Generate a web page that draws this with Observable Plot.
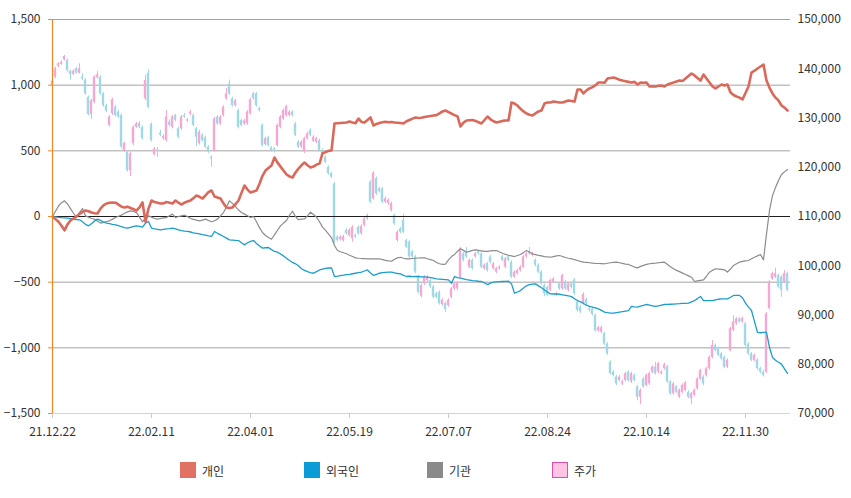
<!DOCTYPE html>
<html><head><meta charset="utf-8">
<script src="https://cdn.jsdelivr.net/npm/d3@7"></script>
<script src="https://cdn.jsdelivr.net/npm/@observablehq/plot@0.6"></script>
<style>
body{margin:0;background:#fff;font-family:"Noto Sans CJK KR","Noto Sans",sans-serif;}
#wrap{position:relative;width:851px;height:498px;overflow:hidden;}
#legend{position:absolute;left:0;top:445px;width:851px;height:53px;}
.item{position:absolute;top:17px;height:16px;display:flex;align-items:center;font-size:12px;color:#333;white-space:nowrap;}
.sw{width:16px;height:16px;margin-right:6px;box-sizing:border-box;}
</style></head><body>
<div id="wrap"><div id="chart"></div><div id="legend"></div></div>
<script>
// ---- data ----
const seriesNames = ["개인", "외국인", "기관", "주가"];
const seriesColors = ["#df7262", "#0b9bd6", "#8a8a8a", "#ffc4e4"];
const dateTickIndex = [0, 33, 66, 99, 132, 165, 198, 231];
const dateTickLabels = ["21.12.22", "22.02.11", "22.04.01", "22.05.19", "22.07.07", "22.08.24", "22.10.14", "22.11.30"];
const leftTicks = [-1500, -1000, -500, 0, 500, 1000, 1500];
const rightTicks = [70000, 80000, 90000, 100000, 110000, 120000, 130000, 140000, 150000];

const individual = [0,-20,-40,-70,-105,-60,-30,-15,0,20,
35,46,40,30,25,23,60,85,99,105,
107,105,90,75,69,75,65,55,46,69,
107,-40,60,122,110,105,99,100,110,105,
99,122,105,91,105,115,122,140,160,150,
137,160,185,198,152,145,137,100,69,65,
69,95,122,180,236,205,183,190,198,250,
310,350,370,388,449,410,380,350,320,305,
297,335,365,390,411,390,373,380,395,403,
480,490,500,502,708,710,712,714,716,723,
715,710,746,720,715,735,754,693,705,712,
718,722,718,720,716,714,712,708,725,735,
745,754,750,752,758,762,765,769,772,785,
800,807,795,784,772,762,685,715,731,733,
735,728,718,708,735,761,740,725,716,722,
728,731,731,868,860,845,820,800,784,775,
769,785,800,807,860,868,868,876,872,868,
868,876,883,880,875,967,967,937,960,975,
985,1000,1020,1020,1018,1051,1055,1058,1050,1042,
1035,1030,1025,1020,1025,1005,1020,1018,1020,990,
992,990,995,997,990,1005,1013,1020,1028,1035,
1032,1050,1070,1089,1074,1055,1035,1081,1050,1020,
990,975,990,1005,998,1005,944,925,914,905,
891,940,990,1096,1110,1127,1142,1157,1035,980,
937,905,883,845,829,807];

const foreign = [0,-3,-6,-9,-11,-13,-16,-20,-23,-25,
-40,-60,-71,-55,-35,-20,-30,-42,-51,-55,
-60,-63,-70,-78,-85,-89,-82,-76,-71,-76,
-81,-50,-38,-89,-95,-98,-102,-98,-94,-92,
-89,-95,-102,-108,-112,-114,-118,-124,-128,-132,
-138,-142,-148,-152,-114,-128,-140,-152,-165,-178,
-180,-182,-183,-200,-216,-200,-190,-183,-205,-225,
-241,-238,-236,-252,-266,-272,-285,-300,-318,-335,
-350,-360,-375,-398,-410,-420,-428,-432,-420,-407,
-400,-395,-392,-391,-457,-454,-450,-447,-442,-440,
-436,-432,-428,-424,-415,-407,-430,-449,-440,-432,
-428,-426,-424,-424,-430,-434,-437,-448,-457,-455,
-458,-456,-457,-459,-460,-462,-466,-470,-475,-477,
-479,-481,-483,-508,-457,-465,-470,-475,-480,-484,
-488,-490,-493,-495,-505,-518,-508,-500,-498,-496,
-495,-494,-493,-513,-584,-575,-564,-545,-528,-518,
-515,-513,-528,-543,-560,-576,-589,-590,-589,-592,
-596,-600,-605,-610,-627,-640,-650,-662,-675,-685,
-690,-696,-703,-715,-728,-732,-735,-736,-732,-728,
-724,-720,-716,-685,-688,-690,-682,-676,-670,-675,
-680,-685,-680,-675,-670,-669,-668,-667,-665,-664,
-662,-661,-660,-650,-640,-625,-609,-640,-640,-640,
-640,-635,-630,-627,-627,-627,-615,-601,-601,-601,
-619,-660,-690,-716,-800,-883,-885,-883,-883,-997,
-1073,-1095,-1110,-1124,-1160,-1195];

const institution = [0,40,80,105,119,95,60,25,-8,30,
61,5,-5,-15,-20,-35,-50,-45,-38,-33,
-20,-8,2,10,25,35,43,38,30,-5,
-40,-15,5,-5,-15,-20,-15,-10,-8,5,
18,-8,0,5,10,0,-15,-22,-28,-33,
-28,-20,-30,-40,-32,-20,5,30,75,119,
100,75,50,30,18,5,-8,0,-40,-85,
-122,-145,-160,-173,-140,-105,-71,-50,-30,10,
40,0,-25,-20,-18,5,33,15,-5,-40,
-81,-105,-132,-160,-221,-259,-268,-276,-284,-295,
-305,-315,-318,-320,-320,-322,-322,-322,-322,-322,
-328,-334,-338,-340,-325,-315,-310,-318,-322,-322,
-320,-318,-316,-315,-315,-322,-328,-335,-350,-360,
-365,-362,-330,-305,-289,-265,-246,-258,-272,-265,
-258,-254,-258,-262,-266,-266,-262,-260,-259,-270,
-280,-289,-295,-300,-305,-297,-289,-275,-259,-270,
-284,-290,-296,-300,-305,-308,-310,-305,-300,-297,
-305,-312,-318,-322,-328,-335,-342,-348,-350,-352,
-355,-357,-358,-359,-360,-356,-352,-350,-348,-352,
-357,-362,-365,-375,-385,-391,-380,-372,-365,-360,
-357,-355,-352,-350,-348,-365,-382,-398,-410,-420,
-431,-442,-452,-462,-495,-490,-486,-482,-455,-424,
-410,-398,-400,-403,-406,-424,-400,-373,-360,-348,
-342,-338,-335,-322,-310,-300,-289,-330,-132,46,
160,220,274,320,340,358];

const priceOpen = [136600,138300,140500,140900,141800,141700,139500,138800,140000,139100,
138300,137700,134200,130700,133200,138200,138300,134900,132500,128500,
130900,132200,131200,130500,123400,123100,119300,124800,128100,128900,
128100,133900,139100,128700,122600,123500,126900,125800,125400,129200,
128100,130500,127800,127800,130500,129400,130800,130500,127800,124800,
126500,126000,124100,122000,123400,130200,128800,130500,133900,136900,
133900,132500,131500,129500,128800,128800,130900,134900,134900,131900,
128500,124600,126000,123900,123700,124400,128100,129800,130500,130500,
131200,128800,125100,124100,123100,125800,127500,125300,125100,125400,
123400,122000,120000,118700,116600,105800,105300,105100,107200,106100,
105500,106100,107800,106500,108200,110200,117000,113600,117700,115600,
115600,112900,112600,111200,110200,105100,107500,109200,105100,104800,
102800,101800,97700,93800,96300,97000,97000,95700,94300,94600,
92100,92300,91900,93600,95300,95300,97700,102400,102800,99700,
101100,101800,102800,102400,99400,100400,101800,99400,98700,99400,
101800,99700,101800,100700,97700,98400,99000,99700,101800,102800,
102100,101100,100100,98700,96000,95600,95000,96700,94000,96300,
95300,96700,95000,96300,97100,92600,91600,92300,93100,91200,
91200,89900,86800,86500,86200,84100,80400,78400,77400,76700,
76000,76700,78400,76400,77700,75400,73300,77000,75700,76000,
78400,79400,78400,78100,79100,79500,76400,74000,75400,73300,
74300,74700,74300,73000,73700,75000,77000,77400,77700,79100,
81400,83800,83100,82100,81400,79400,82800,86900,88200,89200,
88600,88200,84100,82100,80800,80800,79100,78400,78400,91300,
97300,97700,98000,97700,96700,98400];

const priceClose = [137500,140000,141000,141300,142500,139600,138800,139500,139100,140000,
137900,134900,130700,133500,138300,138800,134900,132500,131400,130200,
133700,130500,130200,124100,124800,119300,122700,128100,128800,128100,
125800,137600,132200,125400,123700,123300,126500,126200,130200,128500,
130200,129500,126100,130200,130200,129600,131200,128500,126100,127100,
125400,124100,123100,121700,129800,128800,130200,132200,134900,134900,
132500,133500,128100,128500,129400,131200,133700,133900,132500,131500,
124400,125800,124400,123400,123200,128500,130200,131500,132300,131200,
130500,126500,124100,125100,125800,126800,126500,126100,125800,123400,
122700,121000,118700,118000,104800,105100,105800,105900,106500,107200,
107800,105800,106500,108000,109500,109500,112900,118800,114600,115100,
112900,113600,113300,112600,108500,106800,106800,106800,103800,101800,
101800,98700,94600,96000,97700,97700,95700,93600,93600,92300,
93000,91100,93000,95300,96300,96500,103400,101100,101800,101100,
99400,102400,102400,99700,100100,99000,100700,100400,99400,99700,
101100,101400,101100,97700,98700,99000,99700,101800,102400,102400,
102400,100100,98700,96300,94300,94000,97000,97300,94300,95300,
98000,95300,96300,95600,94300,90900,90600,94200,92300,90900,
90100,86800,87400,87400,84100,82100,78100,77700,76000,77400,
76400,78100,76700,78100,76700,73300,74700,75400,77700,78100,
79400,78100,80100,78400,79900,76400,74000,76000,74300,74700,
75700,76200,73300,74000,74700,77000,78700,76000,79100,81400,
83800,82800,81800,81100,79400,80800,87200,88600,89200,88600,
89300,83800,82100,80800,81800,79100,78400,77700,90200,96700,
98400,98400,95700,95000,98400,95000];

const priceHigh = [137800,140300,141200,141600,142700,142000,139700,139800,140300,141000,
139000,138000,134500,133800,138600,139400,138600,135200,132800,130500,
134000,132500,131500,130800,125100,123400,123000,128400,129100,129300,
128400,138600,139800,129000,124000,124000,127500,126600,131500,129600,
130500,130800,128100,130500,130900,129900,131500,130800,128100,127500,
126800,126300,124400,122300,130100,130500,130500,132500,136000,137700,
134200,133800,131800,129800,129700,131500,134000,135200,135200,132200,
128800,126100,126300,124200,124000,128800,130500,131800,132600,131500,
131500,129100,125400,125400,126100,127100,127800,126400,126100,125700,
123700,122300,120300,119000,116900,106100,106100,106200,107500,107500,
108100,106400,108100,108300,109800,110500,117300,119100,118000,115900,
115900,113900,113600,112900,110500,107100,107800,110500,105400,105100,
103100,102100,98000,96300,98000,98000,97300,96000,94600,94900,
93300,92600,93300,95600,96600,96800,103700,102700,103700,101400,
101400,102700,103100,102700,100400,100700,102100,100700,99700,100000,
102100,101700,102100,101000,99000,99300,100000,102100,102700,103700,
102700,101400,100400,99000,96300,95900,97300,97600,94600,96600,
98300,97000,96600,96600,97400,92900,91900,94500,93400,91500,
91500,90200,87700,87700,86500,84400,80700,78700,77700,77700,
76700,78400,78700,78400,78000,75700,75000,77300,78000,78400,
79700,80400,80400,78700,80200,79800,76700,76300,75700,75000,
76000,76500,74600,74300,75000,77300,79000,77700,79400,81700,
84800,84100,83400,82400,81700,81100,87500,89800,89500,89500,
89600,88500,84400,82400,82100,81100,79400,78700,90500,97000,
98700,99500,98300,98000,99000,98700];

const priceLow = [136300,138000,140200,140700,141600,139300,137700,138600,138900,138900,
137600,134600,130400,129700,132900,137900,134600,132200,131100,128200,
130500,130200,129900,123800,123000,119000,118100,124400,127900,127800,
125500,133500,131900,125100,122300,122000,126200,125500,125100,128200,
127800,129200,125800,127500,129900,129100,130500,128200,124200,124500,
125100,123800,122800,120000,123100,128500,128500,130200,133600,134600,
132200,132200,127800,128200,128500,128500,130600,133600,132200,131200,
124100,124300,124100,123100,122900,124100,127800,129500,130200,130200,
130200,126200,123800,123800,122800,125500,126200,125000,124800,123100,
122400,120700,118400,117700,104500,104800,105000,104800,106200,105800,
104800,105500,106200,106200,107900,109200,112600,113300,114300,114800,
112600,112600,112300,110900,108200,104800,106500,106500,103500,101500,
101500,98400,94300,93500,96000,96700,95400,93300,93300,92000,
91800,90500,91600,93300,95000,95000,97400,100800,101500,99400,
99100,101500,102100,99400,99100,98700,100400,99100,98400,99100,
100800,99400,100800,97400,97400,98100,98700,99400,101500,102100,
101800,99800,98400,96000,93700,93700,94700,96400,93700,95000,
95000,95000,94700,95300,94000,90600,90300,92000,92000,90600,
89800,86500,86500,86200,83800,81800,77800,77400,75700,76400,
75700,76400,76400,76100,76400,72600,71800,75100,75400,75700,
78100,77800,78100,77800,78800,76100,73700,73700,74000,73000,
74000,74400,73000,71800,73400,74700,76700,75700,77400,78800,
81100,82500,81500,80800,79100,79100,82500,86600,87900,88300,
88300,83500,81800,80500,80500,78800,78100,77400,78100,91000,
97000,97400,95400,93600,96400,94700];

// ---- chart ----
const N = priceClose.length;
const pricePivot = 110000, priceSpan = 40000, leftSpan = 1500;
const toLeft = p => (p - pricePivot) * leftSpan / priceSpan;
const rows = d3.range(N).map(i => ({i, ind: individual[i], frn: foreign[i], ins: institution[i],
  o: priceOpen[i], c: priceClose[i], h: priceHigh[i], l: priceLow[i]}));
const ups = rows.filter(d => d.c >= d.o);
const downs = rows.filter(d => d.c < d.o);
const upColor = "#f5a8d1", downColor = "#a2d8e5";
const fmt = d3.format(",");

const chart = Plot.plot({
  width: 851, height: 445,
  marginLeft: 52, marginRight: 61, marginTop: 19, marginBottom: 32,
  x: {domain: [0, 246], axis: null, label: null},
  y: {domain: [-1500, 1500], axis: null, label: null},
  style: {fontFamily: '"Noto Sans CJK KR","Noto Sans",sans-serif', fontSize: "12px", color: "#333", background: "#fff", overflow: "visible"},
  marks: [
    Plot.ruleY(leftTicks.filter(v => v !== 0 && v !== -1500), {stroke: "#a3a3a3", strokeWidth: 1}),
    Plot.ruleY([-1500], {stroke: "#d4d4d4"}),
    Plot.ruleX(ups, {x: "i", y1: d => toLeft(d.l), y2: d => toLeft(d.h), stroke: upColor, strokeWidth: 1}),
    Plot.ruleX(downs, {x: "i", y1: d => toLeft(d.l), y2: d => toLeft(d.h), stroke: downColor, strokeWidth: 1}),
    Plot.rect(ups, {x1: d => d.i - 0.4, x2: d => d.i + 0.4, y1: d => toLeft(d.o), y2: d => toLeft(d.c), fill: upColor}),
    Plot.rect(downs, {x1: d => d.i - 0.4, x2: d => d.i + 0.4, y1: d => toLeft(d.o), y2: d => toLeft(d.c), fill: downColor}),
    Plot.ruleY([0], {stroke: "#1e1e1e", strokeWidth: 1}),
    Plot.line(rows, {x: "i", y: "ins", stroke: "#8c8c8c", strokeWidth: 1.2}),
    Plot.line(rows, {x: "i", y: "frn", stroke: "#1c9dca", strokeWidth: 1.3}),
    Plot.line(rows, {x: "i", y: "ind", stroke: "#d9695b", strokeWidth: 2.6}),
    Plot.ruleX([0], {y1: -1500, y2: 1500, stroke: "#f0892a", strokeWidth: 1.2}),
    Plot.axisY(leftTicks, {anchor: "left", label: null, tickSize: 4, tickPadding: 8, stroke: "#f0892a", fill: "#333", tickFormat: fmt}),
    Plot.axisX(dateTickIndex, {anchor: "bottom", label: null, tickSize: 5, tickPadding: 9, stroke: "#c8c8c8", fill: "#333",
      tickFormat: v => dateTickLabels[dateTickIndex.indexOf(v)]}),
    Plot.text(rightTicks, {x: 246, y: toLeft, text: d => fmt(d), textAnchor: "start", dx: 7, fill: "#333"})
  ]
});
document.getElementById("chart").appendChild(chart);

// ---- legend ----
const legendLeft = [180, 304, 427, 552];
const legend = document.getElementById("legend");
seriesNames.forEach((name, k) => {
  const item = document.createElement("div");
  item.className = "item";
  item.style.left = legendLeft[k] + "px";
  const sw = document.createElement("div");
  sw.className = "sw";
  sw.style.background = seriesColors[k];
  if (k === 3) sw.style.border = "1px solid #e24ea6";
  const t = document.createElement("span");
  t.textContent = name;
  item.appendChild(sw); item.appendChild(t);
  legend.appendChild(item);
});
</script>
</body></html>
